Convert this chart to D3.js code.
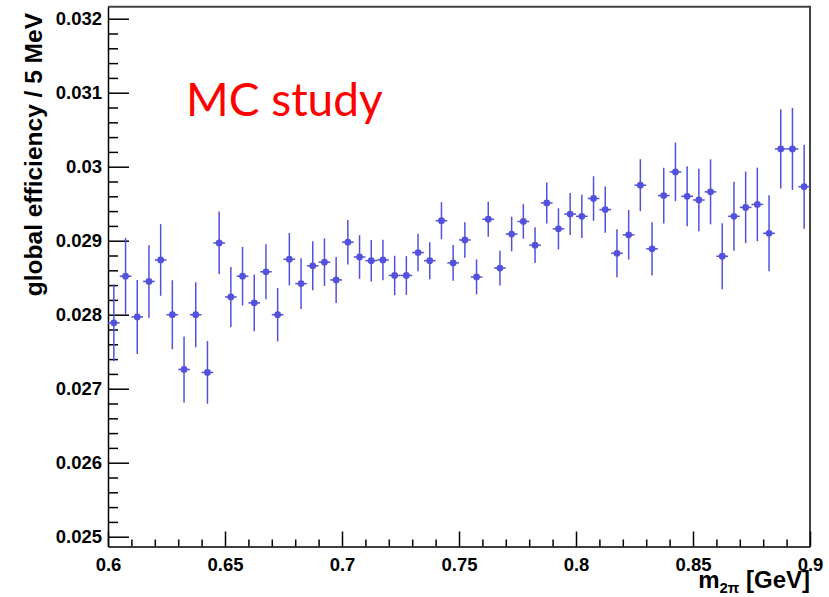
<!DOCTYPE html>
<html lang="en">
<head>
    <meta charset="UTF-8">
    <title>Global efficiency</title>
    <script src="https://d3js.org/d3.v7.min.js"></script>
    <style>
        body { margin: 0; background: #fff; }
        .axis text { font-family: "Liberation Sans", Arial, sans-serif; font-weight: bold; font-size: 18.5px; fill: #000; }
        .axis line, .axis path { stroke: #000; stroke-width: 1.5; }
    </style>
</head>
<body>
    <div id="chart"></div>

    <script>
        // bin centres (GeV), efficiency and its error per 5 MeV bin
        const binCenters = d3.range(60).map(i => +(0.6025 + 0.005 * i).toFixed(4));
        const efficiency = [
            0.02789, 0.02852, 0.02797, 0.02845, 0.02874, 0.02800, 0.02726, 0.02800, 0.02722, 0.02897,
            0.02824, 0.02852, 0.02816, 0.02858, 0.02800, 0.02875, 0.02842, 0.02866, 0.02871, 0.02847,
            0.02898, 0.02878, 0.02873, 0.02874, 0.02853, 0.02853, 0.02884, 0.02873, 0.02927, 0.02870,
            0.02901, 0.02851, 0.02929, 0.02863, 0.02909, 0.02926, 0.02894, 0.02951, 0.02916, 0.02936,
            0.02933, 0.02957, 0.02942, 0.02883, 0.02908, 0.02975, 0.02889, 0.02961, 0.02993, 0.02960,
            0.02955, 0.02966, 0.02879, 0.02933, 0.02945, 0.02949, 0.02910, 0.03024, 0.03024, 0.02973
        ];
        const errors = [
            0.000518, 0.000518, 0.000500, 0.000490, 0.000484, 0.000466, 0.000446, 0.000439, 0.000423, 0.000423,
            0.000405, 0.000396, 0.000382, 0.000372, 0.000361, 0.000355, 0.000342, 0.000331, 0.000322, 0.000311,
            0.000301, 0.000295, 0.000281, 0.000274, 0.000266, 0.000261, 0.000254, 0.000250, 0.000250, 0.000241,
            0.000239, 0.000236, 0.000236, 0.000234, 0.000234, 0.000234, 0.000243, 0.000278, 0.000278, 0.000284,
            0.000292, 0.000301, 0.000314, 0.000324, 0.000335, 0.000351, 0.000361, 0.000376, 0.000395, 0.000405,
            0.000422, 0.000439, 0.000446, 0.000466, 0.000484, 0.000497, 0.000514, 0.000536, 0.000554, 0.000568
        ];
        const binWidth = 0.005;

        const xTicks = [0.6, 0.65, 0.7, 0.75, 0.8, 0.85, 0.9];
        const xTickLabels = ["0.6", "0.65", "0.7", "0.75", "0.8", "0.85", "0.9"];
        const yTicks = [0.025, 0.026, 0.027, 0.028, 0.029, 0.030, 0.031, 0.032];
        const yTickLabels = ["0.025", "0.026", "0.027", "0.028", "0.029", "0.03", "0.031", "0.032"];

        const width = 829, height = 597;
        const mLeft = 108, mRight = 810, mTop = 6.7, mBottom = 546.5;
        const color = "#5252dc";

        const svg = d3.select("#chart").append("svg")
            .attr("width", width)
            .attr("height", height);

        const x = d3.scaleLinear().domain([0.6, 0.9]).range([mLeft, mRight]);
        const y = d3.scaleLinear().domain([0.0248676, 0.0321622]).range([mBottom, mTop]);

        // frame (top / right)
        svg.append("path")
            .attr("d", `M${mLeft},${mTop}H${mRight}V${mBottom}`)
            .attr("fill", "none")
            .attr("stroke", "#444")
            .attr("stroke-width", 2);

        // minor ticks
        const xMinor = d3.range(0.61, 0.9, 0.01).filter(v => Math.abs(v * 20 - Math.round(v * 20)) > 1e-6);
        const yMinor = d3.range(0.0250, 0.03201, 0.0002).filter(v => Math.abs(v * 1000 - Math.round(v * 1000)) > 1e-6);

        svg.append("g").attr("class", "axis")
            .attr("transform", `translate(0,${mBottom})`)
            .call(d3.axisBottom(x).tickValues(xMinor).tickSize(-7).tickSizeOuter(0).tickFormat(""))
            .select(".domain").remove();
        svg.append("g").attr("class", "axis")
            .attr("transform", `translate(${mLeft},0)`)
            .call(d3.axisLeft(y).tickValues(yMinor).tickSize(-10).tickSizeOuter(0).tickFormat(""))
            .select(".domain").remove();

        // major axes
        svg.append("g").attr("class", "axis")
            .attr("transform", `translate(0,${mBottom})`)
            .call(d3.axisBottom(x).tickValues(xTicks).tickSize(-15).tickSizeOuter(0).tickPadding(11)
                .tickFormat((d, i) => xTickLabels[i]));

        svg.append("g").attr("class", "axis")
            .attr("transform", `translate(${mLeft},0)`)
            .call(d3.axisLeft(y).tickValues(yTicks).tickSize(-21).tickSizeOuter(0).tickPadding(6)
                .tickFormat((d, i) => yTickLabels[i]));

        // axis titles
        svg.append("text")
            .attr("transform", "translate(42,13) rotate(-90)")
            .attr("text-anchor", "end")
            .attr("font-family", "Liberation Sans, Arial, sans-serif")
            .attr("font-weight", "bold")
            .attr("font-size", 24.5)
            .text("global efficiency / 5 MeV");

        const xt = svg.append("text")
            .attr("x", mRight)
            .attr("y", 588)
            .attr("text-anchor", "end")
            .attr("font-family", "Liberation Sans, Arial, sans-serif")
            .attr("font-weight", "bold")
            .attr("font-size", 24);
        xt.append("tspan").text("m");
        xt.append("tspan").attr("font-size", 15).attr("dy", 5).text("2π");
        xt.append("tspan").attr("dy", -5).text(" [GeV]");

        // data points with error bars
        const pts = svg.append("g")
            .selectAll("g")
            .data(binCenters.map((c, i) => ({ c, v: efficiency[i], e: errors[i] })))
            .join("g");

        pts.append("line")
            .attr("x1", d => x(d.c)).attr("x2", d => x(d.c))
            .attr("y1", d => y(d.v - d.e)).attr("y2", d => y(d.v + d.e))
            .attr("stroke", color).attr("stroke-width", 1.5);

        pts.append("line")
            .attr("x1", d => x(d.c - binWidth / 2)).attr("x2", d => x(d.c + binWidth / 2))
            .attr("y1", d => y(d.v)).attr("y2", d => y(d.v))
            .attr("stroke", color).attr("stroke-width", 1.5);

        pts.append("circle")
            .attr("cx", d => x(d.c))
            .attr("cy", d => y(d.v))
            .attr("r", 3.4)
            .attr("fill", color);

        // label
        svg.append("text")
            .attr("x", 186)
            .attr("y", 116)
            .attr("font-family", "Lato, 'Open Sans', sans-serif")
            .attr("font-size", 46)
            .attr("fill", "#ff0000")
            .text("MC study");
    </script>
</body>
</html>
